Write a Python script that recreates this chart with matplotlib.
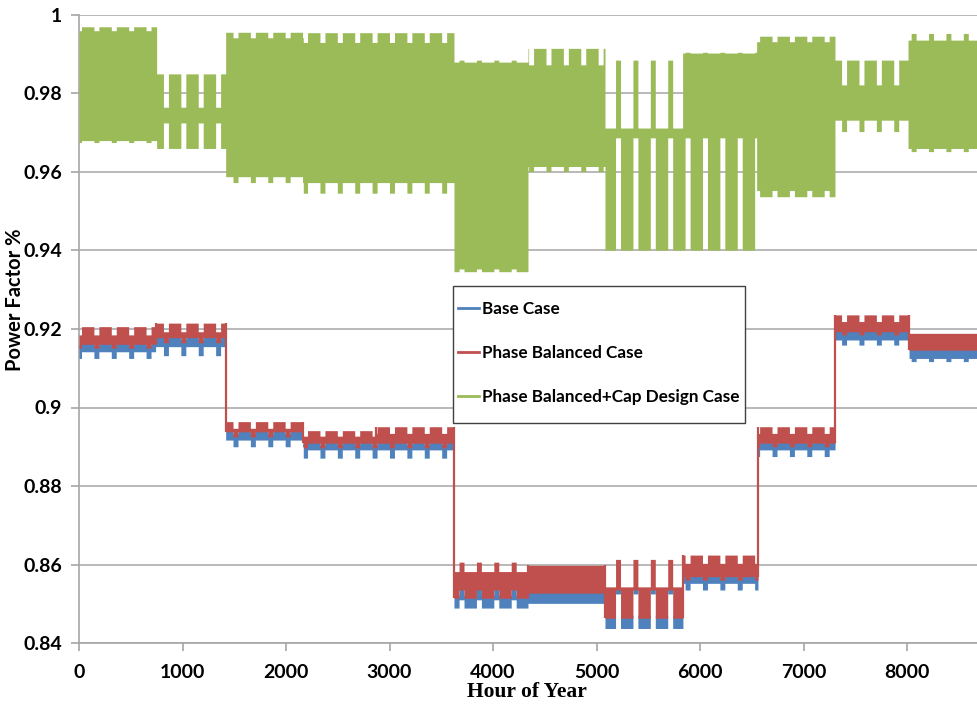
import numpy as np
import matplotlib.pyplot as plt
from matplotlib.lines import Line2D
from matplotlib.patches import Rectangle

# segments: hour ranges with weekday / weekend band limits
# --- Base Case (blue) and Phase Balanced Case (red)
rb_start = [0, 740, 1417, 2167, 2870, 3623, 4338, 5082, 5835, 6560, 7305, 8020]
rb_end = [740, 1417, 2167, 2870, 3623, 4338, 5082, 5835, 6560, 7305, 8020, 8760]
red_wd_lo = [0.9161, 0.9178, 0.8938, 0.8909, 0.8909, 0.8514, 0.8527, 0.8463, 0.8569, 0.8909, 0.9193, 0.9146]
red_wd_hi = [0.9206, 0.9215, 0.8964, 0.8941, 0.8951, 0.8582, 0.8598, 0.8543, 0.8624, 0.8951, 0.9236, 0.9189]
red_we_lo = [0.9151, 0.9165, 0.8925, 0.8897, 0.8897, 0.8535, 0.8527, 0.8535, 0.8560, 0.8900, 0.9185, 0.9146]
red_we_hi = [0.9185, 0.9193, 0.8947, 0.8927, 0.8934, 0.8606, 0.8598, 0.8613, 0.8603, 0.8934, 0.9219, 0.9189]
blue_wd_lo = [0.9142, 0.9155, 0.8917, 0.8892, 0.8892, 0.8489, 0.8501, 0.8437, 0.8552, 0.8892, 0.9172, 0.9125]
blue_we_lo = [0.9125, 0.9132, 0.8900, 0.8871, 0.8871, 0.8510, 0.8501, 0.8525, 0.8535, 0.8875, 0.9159, 0.9117]

# --- Phase Balanced+Cap Design Case (green)
g_start = [0, 750, 1417, 2167, 3623, 4338, 5082, 5832, 6547, 7304, 8010]
g_end = [750, 1417, 2167, 3623, 4338, 5082, 5832, 6547, 7304, 8010, 8760]
g_wd_lo = [0.9680, 0.9660, 0.9588, 0.9573, 0.9346, 0.9614, 0.9401, 0.9401, 0.9537, 0.9732, 0.9660]
g_wd_hi = [0.9970, 0.9850, 0.9956, 0.9955, 0.9880, 0.9915, 0.9712, 0.9903, 0.9946, 0.9885, 0.9936]
g_we_lo = [0.9675, 0.9725, 0.9573, 0.9546, 0.9353, 0.9601, 0.9687, 0.9687, 0.9553, 0.9703, 0.9652]
g_we_hi = [0.9960, 0.9765, 0.9942, 0.9930, 0.9885, 0.9873, 0.9885, 0.9905, 0.9932, 0.9822, 0.9953]

labels = ['Base Case', 'Phase Balanced Case', 'Phase Balanced+Cap Design Case']
colors = ['#4F81BD', '#C0504D', '#9BBB59']


def envelope(start, end, wd_lo, wd_hi, we_lo, we_hi):
    '''Step envelope, one step per day, weekend days use the weekend limits'''
    xs, lo, hi = [], [], []
    for s, e, a, b, c, d in zip(start, end, wd_lo, wd_hi, we_lo, we_hi):
        cuts = [s] + list(range(24 * (s // 24 + 1), e, 24))
        for h in cuts:
            weekend = (h // 24) % 7 in (0, 6)
            xs.append(h)
            lo.append(c if weekend else a)
            hi.append(d if weekend else b)
    xs.append(end[-1])
    lo.append(lo[-1])
    hi.append(hi[-1])
    return np.array(xs), np.array(lo), np.array(hi)


fig = plt.figure(figsize=(9.77, 7.05), dpi=100)
ax = fig.add_axes([79 / 977, 62 / 705, 931.5 / 977, 628 / 705])

bx, blo, _ = envelope(rb_start, rb_end, blue_wd_lo, red_wd_lo, blue_we_lo, red_we_lo)
rx, rlo, rhi = envelope(rb_start, rb_end, red_wd_lo, red_wd_hi, red_we_lo, red_we_hi)
gx, glo, ghi = envelope(g_start, g_end, g_wd_lo, g_wd_hi, g_we_lo, g_we_hi)

ax.fill_between(bx, blo, rlo + 0.0008, step='post', color=colors[0], lw=0, zorder=3)
ax.fill_between(rx, rlo, rhi, step='post', color=colors[1], lw=0, zorder=4)
ax.fill_between(gx, glo, ghi, step='post', color=colors[2], lw=0, zorder=4)

# red connector at each step change
for i in range(1, len(rb_start)):
    y0 = min(red_wd_lo[i - 1], red_wd_lo[i])
    y1 = max(red_wd_hi[i - 1], red_wd_hi[i])
    ax.vlines(rb_start[i], y0, y1, color=colors[1], lw=1.6, zorder=4)

ax.set_xlim(0, 9000)
ax.set_ylim(0.84, 1.0)
ax.set_xticks(range(0, 8001, 1000))
yt = np.arange(0.84, 1.001, 0.02)
ax.set_yticks(yt)
ax.set_yticklabels(['%g' % round(v, 2) for v in yt])
ax.yaxis.grid(True, color='#ADADAD', lw=1.2, zorder=0)
ax.set_axisbelow(True)
for sp in ['top', 'right']:
    ax.spines[sp].set_visible(False)
for sp in ['left', 'bottom']:
    ax.spines[sp].set_color('#A6A6A6')
    ax.spines[sp].set_linewidth(1.2)
ax.tick_params(axis='both', color='#A6A6A6', length=6, width=1.2)
ax.tick_params(axis='x', pad=9)
ax.tick_params(axis='y', pad=6)
for t in ax.get_xticklabels() + ax.get_yticklabels():
    t.set_fontfamily('Lato')
    t.set_fontweight('bold')
    t.set_fontsize(14)

ax.set_ylabel('Power Factor %', fontfamily='Lato', fontweight='bold', fontsize=14.5)
ax.yaxis.set_label_coords(-0.0575, 0.546)
ax.set_xlabel('Hour of Year', fontfamily='Liberation Serif', fontweight='bold', fontsize=15.5)
ax.xaxis.set_label_coords(0.481, -0.062)

# legend frame drawn by hand so its padding matches the original box
ax.add_patch(Rectangle((0.4015, 0.3503), 0.3135, 0.2182, transform=ax.transAxes,
                       facecolor='white', edgecolor='#404040', lw=1.0, zorder=5))
handles = [Line2D([0], [0], color=c, lw=2) for c in colors]
leg = ax.legend(handles, labels, loc='upper left', bbox_to_anchor=(0.4069, 0.544),
                borderaxespad=0, borderpad=0, frameon=False,
                prop={'family': 'Lato', 'weight': 'bold', 'size': 12.3},
                handlelength=1.25, handletextpad=0.15, labelspacing=1.62)
leg.set_zorder(6)

fig.savefig('out.png', dpi=100)
